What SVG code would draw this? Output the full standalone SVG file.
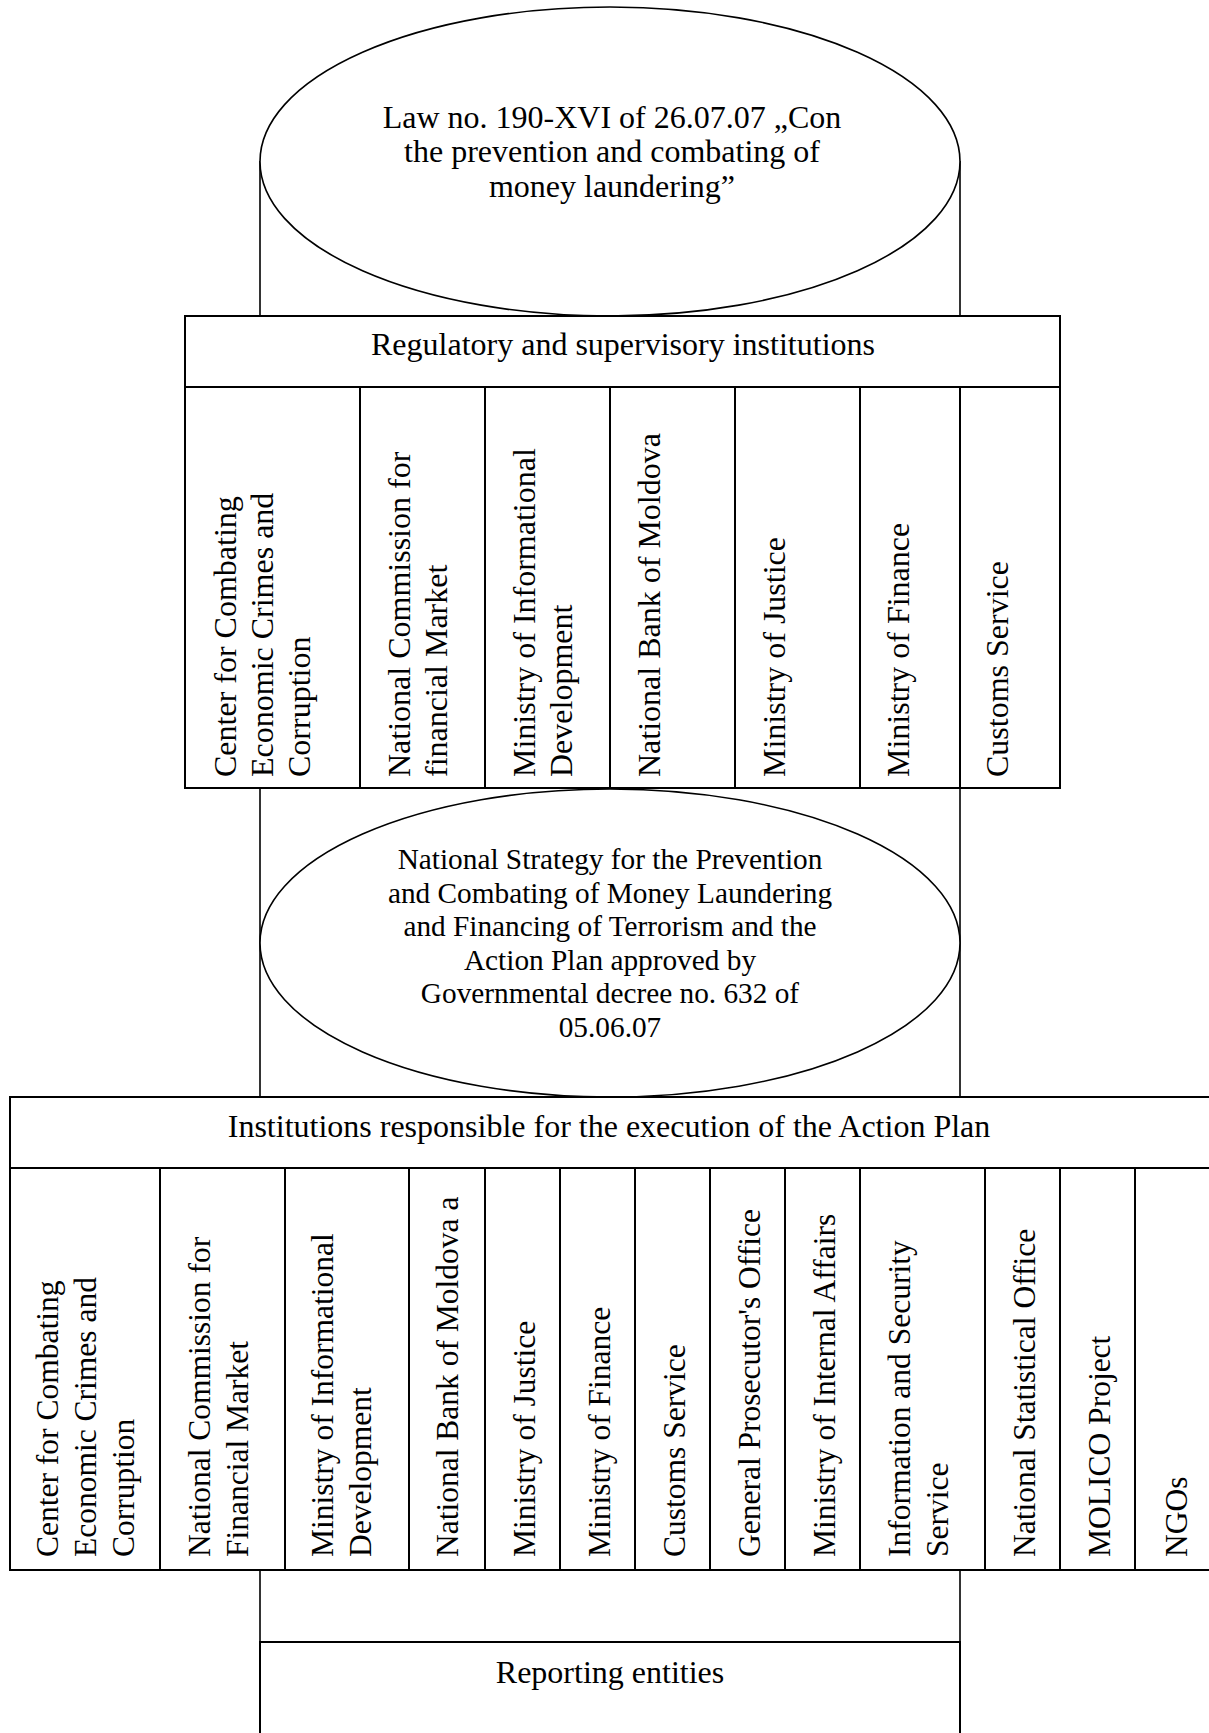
<svg xmlns="http://www.w3.org/2000/svg" width="1209" height="1733" viewBox="0 0 1209 1733">
<style>
  text { font-family: "Liberation Serif", "Times New Roman", serif; fill: #000; }
  .t32 { font-size: 32px; }
  .t29 { font-size: 29.3px; }
  .c1 { font-size: 32px; }
  .c2 { font-size: 31.5px; }
  .mid { text-anchor: middle; }
  .box { fill: #fff; stroke: #000; stroke-width: 2; }
  .cell { fill: none; stroke: #000; stroke-width: 2; }
  .ell { fill: #fff; stroke: #000; stroke-width: 1.6; }
  .conn { stroke: #000; stroke-width: 1.6; fill: none; }
</style>
<rect x="0" y="0" width="1209" height="1733" fill="#fff"/>

<g id="connectors">
  <line class="conn" x1="260" y1="161" x2="260" y2="316"/>
  <line class="conn" x1="960" y1="161" x2="960" y2="316"/>
  <line class="conn" x1="260" y1="788" x2="260" y2="1097"/>
  <line class="conn" x1="960" y1="788" x2="960" y2="1097"/>
  <line class="conn" x1="260" y1="1570" x2="260" y2="1642"/>
  <line class="conn" x1="960" y1="1570" x2="960" y2="1642"/>
</g>

<g id="law">
  <ellipse class="ell" cx="610" cy="161.5" rx="350" ry="154.5"/>
  <text class="t32 mid" x="612" y="127.5">Law no. 190-XVI of 26.07.07 „Con</text>
  <text class="t32 mid" x="612" y="162">the prevention and combating of</text>
  <text class="t32 mid" x="612" y="196.5">money laundering”</text>
</g>

<g id="regulatory">
  <g id="regulatory-header">
    <rect class="box" x="185" y="316" width="875" height="71"/>
    <text class="t32 mid" x="623" y="355">Regulatory and supervisory institutions</text>
  </g>
  <g id="reg-cceccc">
    <rect class="cell" x="185" y="387" width="175" height="401"/>
    <text class="c1" transform="translate(236,777) rotate(-90)">Center for Combating<tspan x="0" dy="37">Economic Crimes and</tspan><tspan x="0" dy="37">Corruption</tspan></text>
  </g>
  <g id="reg-ncfm">
    <rect class="cell" x="360" y="387" width="125" height="401"/>
    <text class="c1" transform="translate(410,777) rotate(-90)">National Commission for<tspan x="0" dy="37">financial Market</tspan></text>
  </g>
  <g id="reg-mid">
    <rect class="cell" x="485" y="387" width="125" height="401"/>
    <text class="c1" transform="translate(535,777) rotate(-90)">Ministry of Informational<tspan x="0" dy="37">Development</tspan></text>
  </g>
  <g id="reg-nbm">
    <rect class="cell" x="610" y="387" width="125" height="401"/>
    <text class="c1" transform="translate(660,777) rotate(-90)">National Bank of Moldova</text>
  </g>
  <g id="reg-moj">
    <rect class="cell" x="735" y="387" width="125" height="401"/>
    <text class="c1" transform="translate(785,777) rotate(-90)">Ministry of Justice</text>
  </g>
  <g id="reg-mof">
    <rect class="cell" x="860" y="387" width="100" height="401"/>
    <text class="c1" transform="translate(909,777) rotate(-90)">Ministry of Finance</text>
  </g>
  <g id="reg-customs">
    <rect class="cell" x="960" y="387" width="100" height="401"/>
    <text class="c1" transform="translate(1008,777) rotate(-90)">Customs Service</text>
  </g>
</g>

<g id="strategy">
  <ellipse class="ell" cx="610" cy="943" rx="350" ry="154"/>
  <text class="t29 mid" x="610" y="869">National Strategy for the Prevention</text>
  <text class="t29 mid" x="610" y="902.5">and Combating of Money Laundering</text>
  <text class="t29 mid" x="610" y="936">and Financing of Terrorism and the</text>
  <text class="t29 mid" x="610" y="969.5">Action Plan approved by</text>
  <text class="t29 mid" x="610" y="1003">Governmental decree no. 632 of</text>
  <text class="t29 mid" x="610" y="1036.5">05.06.07</text>
</g>

<g id="executing">
  <g id="exec-header">
    <rect class="box" x="10" y="1097" width="1202" height="71"/>
    <text class="t32 mid" x="609" y="1136.5">Institutions responsible for the execution of the Action Plan</text>
  </g>
  <g id="exec-cceccc">
    <rect class="cell" x="10" y="1168" width="150" height="402"/>
    <text class="c2" transform="translate(58,1557) rotate(-90)">Center for Combating<tspan x="0" dy="38">Economic Crimes and</tspan><tspan x="0" dy="38">Corruption</tspan></text>
  </g>
  <g id="exec-ncfm">
    <rect class="cell" x="160" y="1168" width="125" height="402"/>
    <text class="c2" transform="translate(210,1557) rotate(-90)">National Commission for<tspan x="0" dy="38">Financial Market</tspan></text>
  </g>
  <g id="exec-mid">
    <rect class="cell" x="285" y="1168" width="124" height="402"/>
    <text class="c2" transform="translate(333,1557) rotate(-90)">Ministry of Informational<tspan x="0" dy="38">Development</tspan></text>
  </g>
  <g id="exec-nbm">
    <rect class="cell" x="409" y="1168" width="76" height="402"/>
    <text class="c2" transform="translate(458,1557) rotate(-90)">National Bank of Moldova a</text>
  </g>
  <g id="exec-moj">
    <rect class="cell" x="485" y="1168" width="75" height="402"/>
    <text class="c2" transform="translate(535,1557) rotate(-90)">Ministry of Justice</text>
  </g>
  <g id="exec-mof">
    <rect class="cell" x="560" y="1168" width="75" height="402"/>
    <text class="c2" transform="translate(610,1557) rotate(-90)">Ministry of Finance</text>
  </g>
  <g id="exec-customs">
    <rect class="cell" x="635" y="1168" width="75" height="402"/>
    <text class="c2" transform="translate(685,1557) rotate(-90)">Customs Service</text>
  </g>
  <g id="exec-gpo">
    <rect class="cell" x="710" y="1168" width="75" height="402"/>
    <text class="c2" transform="translate(760,1557) rotate(-90)">General Prosecutor's Office</text>
  </g>
  <g id="exec-mia">
    <rect class="cell" x="785" y="1168" width="75" height="402"/>
    <text class="c2" transform="translate(835,1557) rotate(-90)">Ministry of Internal Affairs</text>
  </g>
  <g id="exec-iss">
    <rect class="cell" x="860" y="1168" width="125" height="402"/>
    <text class="c2" transform="translate(910,1557) rotate(-90)">Information and Security<tspan x="0" dy="38">Service</tspan></text>
  </g>
  <g id="exec-nso">
    <rect class="cell" x="985" y="1168" width="75" height="402"/>
    <text class="c2" transform="translate(1035,1557) rotate(-90)">National Statistical Office</text>
  </g>
  <g id="exec-molico">
    <rect class="cell" x="1060" y="1168" width="75" height="402"/>
    <text class="c2" transform="translate(1110,1557) rotate(-90)">MOLICO Project</text>
  </g>
  <g id="exec-ngos">
    <rect class="cell" x="1135" y="1168" width="77" height="402"/>
    <text class="c2" transform="translate(1187,1557) rotate(-90)">NGOs</text>
  </g>
</g>

<g id="reporting">
  <rect class="box" x="260" y="1642" width="700" height="100"/>
  <text class="t32 mid" x="610" y="1682.5">Reporting entities</text>
</g>
</svg>
